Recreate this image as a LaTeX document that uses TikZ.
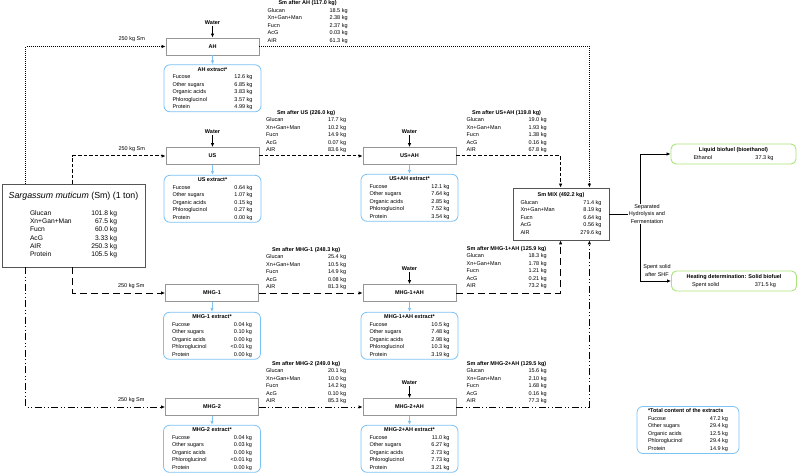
\documentclass[tikz,border=0pt]{standalone}
\usepackage{fontspec}
\setmainfont{Liberation Sans}
\usepackage{array}
\usetikzlibrary{arrows.meta, positioning, calc}
\definecolor{extblue}{RGB}{125, 195, 245}
\definecolor{fuelgreen}{RGB}{170, 228, 120}
\definecolor{boxgray}{RGB}{150, 150, 150}
\definecolor{darkgray}{RGB}{85, 85, 85}

\newcommand{\tabfont}{\fontsize{5.5}{7.5}\selectfont}
\newcommand{\rowtab}[4][c]{%
  \begin{tabular}{@{}p{\dimexpr#2pt-32pt\relax}@{}>{\raggedleft\arraybackslash}p{32pt}@{}}
    \multicolumn{2}{@{}l@{}}{\makebox[#2pt][#1]{\bfseries #3}}\\
    #4
  \end{tabular}}
\newcommand{\smrows}[5]{Glucan & #1 kg\\ Xn+Gan+Man & #2 kg\\ Fucn & #3 kg\\ AcG & #4 kg\\ AIR & #5 kg}
\newcommand{\exrows}[5]{Fucose & #1 kg\\ Other sugars & #2 kg\\ Organic acids & #3 kg\\ Phloroglucinol & #4 kg\\ Protein & #5 kg}

\begin{document}
\begin{tikzpicture}[x=1pt, y=-1pt,
    proc/.style={draw=boxgray, fill=white, line width=0.8pt, minimum width=93pt,
      minimum height=17pt, inner sep=0pt, font=\tabfont\bfseries},
    ext/.style={draw=extblue, fill=white, rounded corners=6pt, line width=0.8pt,
      inner xsep=8.5pt, inner ysep=1pt, font=\tabfont},
    fuel/.style={draw=fuelgreen, fill=white, rounded corners=5pt, line width=0.9pt,
      minimum width=125pt, minimum height=20pt, inner sep=1pt, font=\tabfont},
    tab/.style={inner sep=0pt, font=\tabfont},
    lbl/.style={inner sep=0.5pt, font=\tabfont},
    water/.style={inner sep=1pt, font=\tabfont\bfseries},
    arr/.style={-{Latex[length=4pt, width=3.5pt]}, line width=0.8pt},
    bluearr/.style={arr, draw=extblue},
    ahline/.style={arr, line width=0.9pt, dash pattern=on 1pt off 1pt},
    usline/.style={arr, line width=1pt, dash pattern=on 3.5pt off 2pt},
    mhgline/.style={arr, line width=1pt, dash pattern=on 7pt off 4pt},
    mhgtwoline/.style={arr, line width=1pt, dash pattern=on 7pt off 2.5pt on 1pt off 2.5pt on 1pt off 2.5pt}
  ]
  \useasboundingbox (0,0) rectangle (798,473);

  \node[draw=darkgray, line width=0.9pt, minimum width=143pt, minimum height=83pt, inner sep=0pt,
    font=\fontsize{6.7}{8.3}\selectfont] (sm) at (73.5,225.5) {%
    \begin{tabular}{@{}p{53pt}@{}>{\raggedleft\arraybackslash}p{34pt}@{}}
      \multicolumn{2}{@{}l@{}}{\makebox[87pt]{\fontsize{8.8}{10}\selectfont\textit{Sargassum muticum} (Sm) (1 ton)}}\\[9pt]
      Glucan & 101.8 kg\\ Xn+Gan+Man & 67.5 kg\\ Fucn & 60.0 kg\\ AcG & 3.33 kg\\ AIR & 250.3 kg\\ Protein & 105.5 kg
    \end{tabular}};

  \node[proc] (ah) at (212.5,46.5) {AH};
  \node[proc] (us) at (212.5,156) {US};
  \node[proc] (usah) at (409.5,156) {US+AH};
  \node[proc] (mhga) at (212,293) {MHG-1};
  \node[proc] (mhgaah) at (409.5,293) {MHG-1+AH};
  \node[proc] (mhgb) at (212,407) {MHG-2};
  \node[proc] (mhgbah) at (409.5,407) {MHG-2+AH};

  \node[ext, below=9pt of ah] (ahx) {\rowtab{80}{AH extract*}{\exrows{12.6}{6.85}{3.83}{3.57}{4.99}}};
  \node[ext, below=10pt of us] (usx) {\rowtab{80}{US extract*}{\exrows{0.64}{1.07}{0.15}{0.27}{0.00}}};
  \node[ext, below=9pt of usah] (usahx) {\rowtab{80}{US+AH extract*}{\exrows{12.1}{7.64}{2.85}{7.52}{3.54}}};
  \node[ext, below=10pt of mhga] (mhgax) {\rowtab{80}{MHG-1 extract*}{\exrows{0.04}{0.10}{0.00}{<0.01}{0.00}}};
  \node[ext, below=10pt of mhgaah] (mhgaahx) {\rowtab{80}{MHG-1+AH extract*}{\exrows{10.5}{7.48}{2.98}{10.3}{3.19}}};
  \node[ext, below=9pt of mhgb] (mhgbx) {\rowtab{80}{MHG-2 extract*}{\exrows{0.04}{0.03}{0.00}{<0.01}{0.00}}};
  \node[ext, below=9pt of mhgbah] (mhgbahx) {\rowtab{80}{MHG-2+AH extract*}{\exrows{11.0}{6.27}{2.73}{7.73}{3.21}}};

  \node[water, above=12pt of ah] (wah) {Water};
  \node[water, above=12pt of us] (wus) {Water};
  \node[water, above=12pt of usah] (wusah) {Water};
  \node[water, above=12pt of mhgaah] (wmhgaah) {Water};
  \node[water, above=12pt of mhgbah] (wmhgbah) {Water};

  \node[tab, above right=2pt and 8pt of ah.east] (tah) {\rowtab{80}{Sm after AH (117.0 kg)}{\smrows{18.5}{2.38}{2.37}{0.03}{61.3}}};
  \node[tab, above right=2pt and 6.5pt of us.east] (tus) {\rowtab{80}{Sm after US (226.0 kg)}{\smrows{17.7}{10.2}{14.9}{0.07}{83.6}}};
  \node[tab, above right=2pt and 10pt of usah.east] (tusah) {\rowtab{80}{Sm after US+AH (119.8 kg)}{\smrows{19.0}{1.93}{1.38}{0.16}{67.8}}};
  \node[tab, above right=2pt and 7pt of mhga.east] (tmhga) {\rowtab{80}{Sm after MHG-1 (248.3 kg)}{\smrows{25.4}{10.5}{14.9}{0.08}{81.3}}};
  \node[tab, above right=3pt and 10pt of mhgaah.east] (tmhgaah) {\rowtab{80}{Sm after MHG-1+AH (125.9 kg)}{\smrows{18.3}{1.78}{1.21}{0.21}{73.2}}};
  \node[tab, above right=2pt and 7pt of mhgb.east] (tmhgb) {\rowtab{80}{Sm after MHG-2 (249.0 kg)}{\smrows{20.1}{10.0}{14.2}{0.10}{85.3}}};
  \node[tab, above right=2pt and 10pt of mhgbah.east] (tmhgbah) {\rowtab{80}{Sm after MHG-2+AH (129.5 kg)}{\smrows{15.6}{2.10}{1.68}{0.16}{77.3}}};

  \node[draw=darkgray, line width=0.8pt, minimum width=96pt, minimum height=52pt, inner sep=0pt,
    font=\tabfont] (mix) at (561,214) {\rowtab{81}{Sm MIX (492.2 kg)}{\smrows{71.4}{8.19}{6.64}{0.56}{279.6}}};

  \node[fuel] (liq) at (733.5,154) {\rowtab{80}{Liquid biofuel (bioethanol)}{Ethanol & 37.3 kg}};
  \node[fuel] (heat) at (734,281) {\rowtab{84}{Heating determination: Solid biofuel}{Spent solid & 371.5 kg}};
  \node[ext, minimum width=102pt, inner xsep=0pt] (tot) at (688,430) {\rowtab[l]{80}{*Total content of the extracts}{\exrows{47.2}{29.4}{12.5}{29.4}{14.9}}};

  \node[lbl, above left=4pt and 20pt of ah.west] (sah) {250 kg Sm};
  \node[lbl, above left=4pt and 20pt of us.west] (sus) {250 kg Sm};
  \node[lbl, above left=4pt and 20pt of mhga.west] (smhga) {250 kg Sm};
  \node[lbl, above left=4pt and 20pt of mhgb.west] (smhgb) {250 kg Sm};

  \draw[ahline] ([xshift=24pt]sm.north west) |- (ah.west);
  \draw[usline] ([xshift=71pt]sm.north west) |- (us.west);
  \draw[mhgline] ([xshift=71pt]sm.south west) |- (mhga.west);
  \draw[mhgtwoline] ([xshift=24pt]sm.south west) |- (mhgb.west);

  \draw[usline] (us) -- (usah);
  \draw[mhgline] (mhga) -- (mhgaah);
  \draw[mhgtwoline] (mhgb) -- (mhgbah);

  \draw[ahline] (ah) -| ([xshift=-20pt]mix.north east);
  \draw[usline] (usah) -| ([xshift=48pt]mix.north west);
  \draw[mhgline] (mhgaah) -| ([xshift=48pt]mix.south west);
  \draw[mhgtwoline] (mhgbah) -| ([xshift=-20pt]mix.south east);

  \draw[arr] (wah) -- (ah);
  \draw[arr] (wus) -- (us);
  \draw[arr] (wusah) -- (usah);
  \draw[arr] (wmhgaah) -- (mhgaah);
  \draw[arr] (wmhgbah) -- (mhgbah);

  \draw[bluearr] (ah) -- (ahx);
  \draw[bluearr] (us) -- (usx);
  \draw[bluearr] (usah) -- (usahx);
  \draw[bluearr] (mhga) -- (mhgax);
  \draw[bluearr] (mhgaah) -- (mhgaahx);
  \draw[bluearr] (mhgb) -- (mhgbx);
  \draw[bluearr] (mhgbah) -- (mhgbahx);

  \coordinate (jn) at (640,214);
  \draw[arr] (jn) |- (liq.west);
  \draw[arr] (jn) |- (heat.west);
  \node[lbl, fill=white, align=center] (shf) at (647,214) {Separated\\Hydrolysis and\\Fermentation};
  \draw[line width=0.8pt] (mix) -- (shf);
  \node[lbl, align=center] (spent) at (657,270.5) {Spent solid\\after SHF};
\end{tikzpicture}
\end{document}
